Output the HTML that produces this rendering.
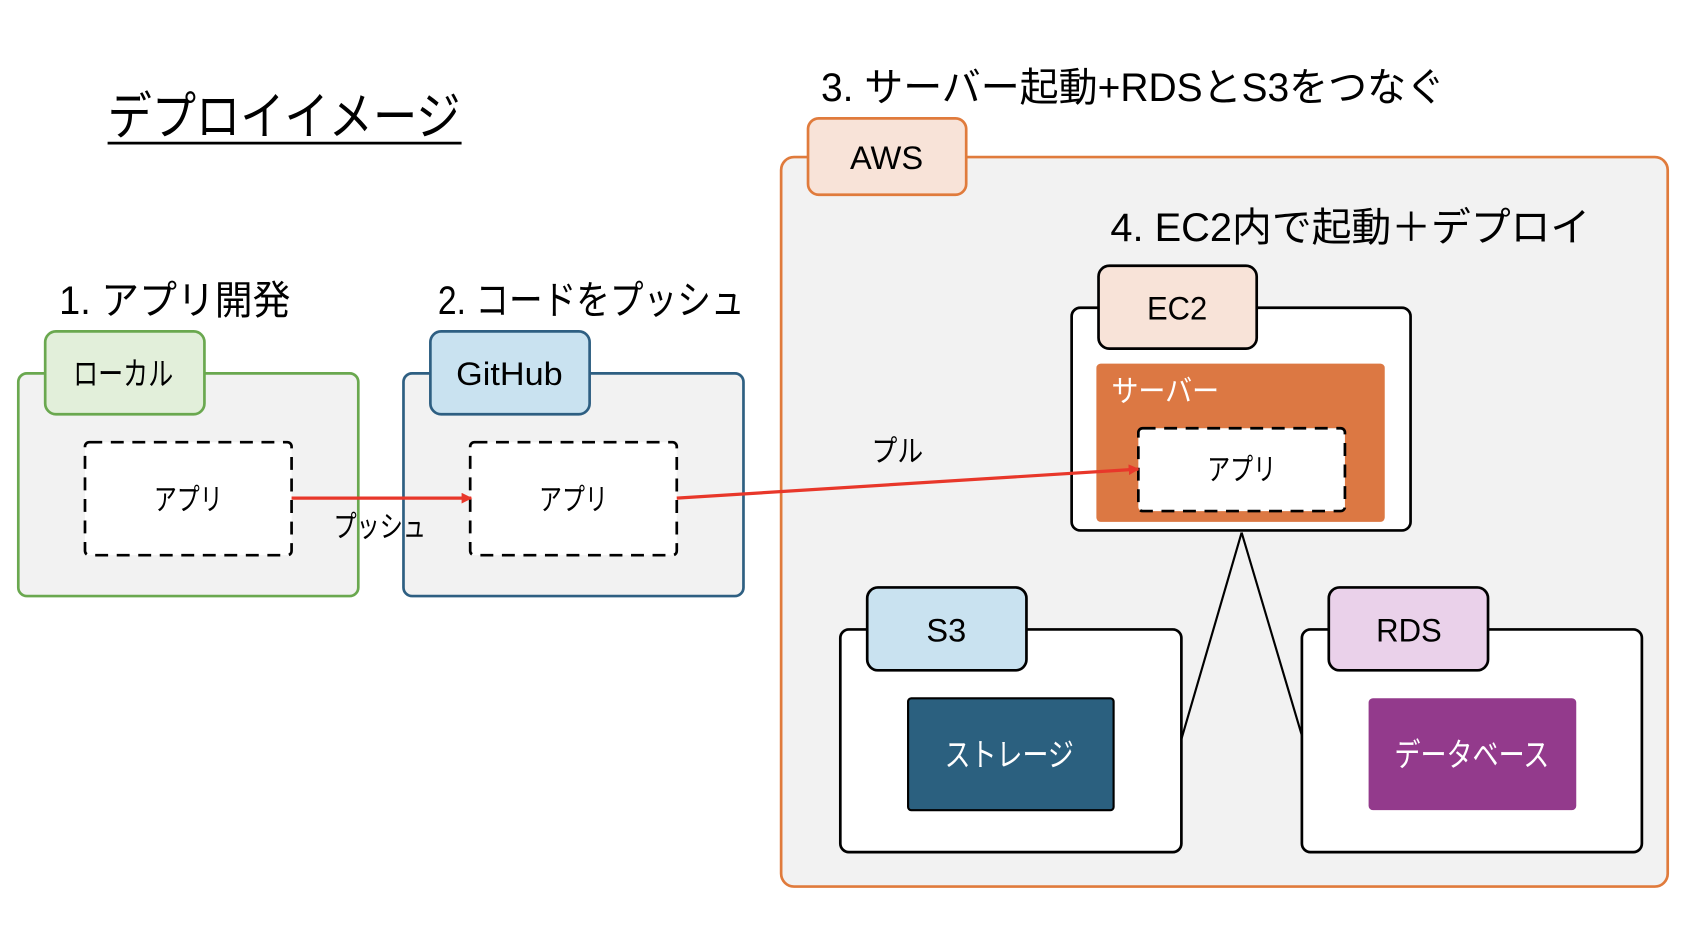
<!DOCTYPE html>
<html><head><meta charset="utf-8"><style>html,body{margin:0;padding:0;background:#fff}svg{display:block}text{font-family:"Liberation Sans","Noto Sans CJK JP",sans-serif}</style></head><body>
<svg width="1686" height="928" viewBox="0 0 1567 862.5" xmlns="http://www.w3.org/2000/svg">
<defs><marker id="ah" markerWidth="10" markerHeight="10" refX="9" refY="5" orient="auto" markerUnits="userSpaceOnUse"><path d="M0,0 L10,5 L0,10 z" fill="#e8372a"/></marker></defs>
<!-- local -->
<rect x="17" y="347" width="316" height="207" rx="8" fill="#f2f2f2" stroke="#6aa84f" stroke-width="2.5"/>
<rect x="42" y="308" width="148" height="77" rx="10" fill="#e2efda" stroke="#6aa84f" stroke-width="2.5"/>
<text x="68" y="358" font-size="30" textLength="93" lengthAdjust="spacingAndGlyphs">ローカル</text>
<rect x="79" y="411" width="192" height="105" rx="4" fill="#fff" stroke="#000" stroke-width="2.5" stroke-dasharray="12,8"/>
<text x="143" y="474" font-size="28" textLength="64" lengthAdjust="spacingAndGlyphs">アプリ</text>
<!-- github -->
<rect x="375" y="347" width="316" height="207" rx="8" fill="#f2f2f2" stroke="#2e5f82" stroke-width="2.5"/>
<rect x="400" y="308" width="148" height="77" rx="10" fill="#c9e2f0" stroke="#2e5f82" stroke-width="2.5"/>
<text x="424" y="358" font-size="30" textLength="99" lengthAdjust="spacingAndGlyphs">GitHub</text>
<rect x="437" y="411" width="192" height="105" rx="4" fill="#fff" stroke="#000" stroke-width="2.5" stroke-dasharray="12,8"/>
<text x="501" y="474" font-size="28" textLength="64" lengthAdjust="spacingAndGlyphs">アプリ</text>
<line x1="271" y1="463" x2="438" y2="463" stroke="#e8372a" stroke-width="3" marker-end="url(#ah)"/>
<text x="310" y="499" font-size="28" textLength="86" lengthAdjust="spacingAndGlyphs">プッシュ</text>
<!-- AWS -->
<rect x="726" y="146" width="824" height="678" rx="12" fill="#f2f2f2" stroke="#e07b3c" stroke-width="2.5"/>
<rect x="751" y="110" width="147" height="71" rx="10" fill="#f8e3d8" stroke="#e07b3c" stroke-width="2.5"/>
<text x="790" y="157" font-size="30" textLength="68" lengthAdjust="spacingAndGlyphs">AWS</text>
<!-- EC2 -->
<rect x="996" y="286" width="315" height="207" rx="8" fill="#fff" stroke="#000" stroke-width="2.5"/>
<rect x="1021" y="247" width="147" height="77" rx="10" fill="#f8e3d8" stroke="#000" stroke-width="2.5"/>
<text x="1066" y="297" font-size="30" textLength="56" lengthAdjust="spacingAndGlyphs">EC2</text>
<rect x="1019" y="338" width="268" height="147" rx="4" fill="#dc7843"/>
<text x="1033" y="373" font-size="28" fill="#fff" textLength="100" lengthAdjust="spacingAndGlyphs">サーバー</text>
<rect x="1058" y="398" width="192" height="77" rx="4" fill="#fff" stroke="#000" stroke-width="2.5" stroke-dasharray="12,8"/>
<text x="1122" y="446" font-size="28" textLength="64" lengthAdjust="spacingAndGlyphs">アプリ</text>
<line x1="629" y1="463" x2="1058" y2="436" stroke="#e8372a" stroke-width="3" marker-end="url(#ah)"/>
<text x="810" y="429" font-size="28" textLength="48" lengthAdjust="spacingAndGlyphs">プル</text>
<line x1="1154" y1="495" x2="1098" y2="687" stroke="#000" stroke-width="2"/>
<line x1="1154" y1="495" x2="1211" y2="687" stroke="#000" stroke-width="2"/>
<!-- S3 -->
<rect x="781" y="585" width="317" height="207" rx="8" fill="#fff" stroke="#000" stroke-width="2.5"/>
<rect x="806" y="546" width="148" height="77" rx="10" fill="#c9e2f0" stroke="#000" stroke-width="2.5"/>
<text x="861" y="596" font-size="30" textLength="37" lengthAdjust="spacingAndGlyphs">S3</text>
<rect x="844" y="649" width="191" height="104" rx="3" fill="#2b607f" stroke="#000" stroke-width="2"/>
<text x="878" y="712" font-size="30" fill="#fff" textLength="120" lengthAdjust="spacingAndGlyphs">ストレージ</text>
<!-- RDS -->
<rect x="1210" y="585" width="316" height="207" rx="8" fill="#fff" stroke="#000" stroke-width="2.5"/>
<rect x="1235" y="546" width="148" height="77" rx="10" fill="#ead1ea" stroke="#000" stroke-width="2.5"/>
<text x="1279" y="596" font-size="30" textLength="61" lengthAdjust="spacingAndGlyphs">RDS</text>
<rect x="1272" y="649" width="193" height="104" rx="4" fill="#933a8c"/>
<text x="1296" y="712" font-size="30" fill="#fff" textLength="144" lengthAdjust="spacingAndGlyphs">データベース</text>
<!-- titles -->
<text x="100" y="125" font-size="48" textLength="328" lengthAdjust="spacingAndGlyphs">デプロイイメージ</text>
<line x1="100" y1="133" x2="429" y2="133" stroke="#000" stroke-width="2.5"/>
<text x="55" y="292" font-size="37" textLength="215" lengthAdjust="spacingAndGlyphs">1. アプリ開発</text>
<text x="407" y="292" font-size="37" textLength="285" lengthAdjust="spacingAndGlyphs">2. コードをプッシュ</text>
<text x="763" y="94" font-size="37" textLength="580" lengthAdjust="spacingAndGlyphs">3. サーバー起動+RDSとS3をつなぐ</text>
<text x="1032" y="224" font-size="37" textLength="446" lengthAdjust="spacingAndGlyphs">4. EC2内で起動＋デプロイ</text>
</svg>
</body></html>
